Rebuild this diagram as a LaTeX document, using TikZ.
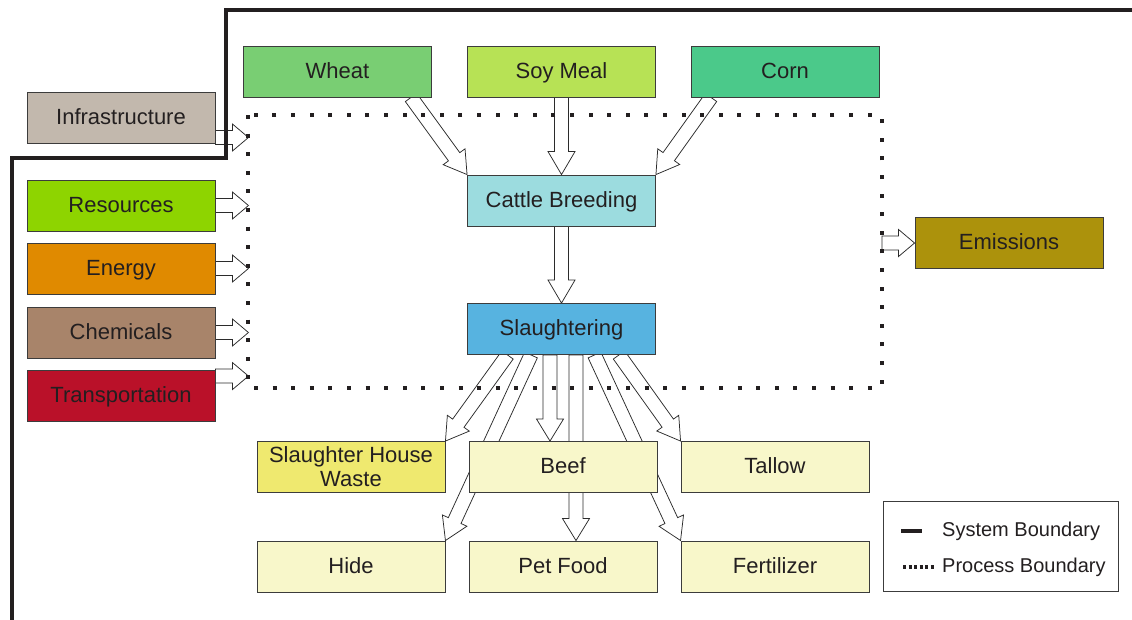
\documentclass[tikz,border=0pt]{standalone}
\usepackage{fontspec}
\setmainfont{Liberation Sans}
\usetikzlibrary{calc,backgrounds}

\definecolor{ink}{HTML}{231F20}
\definecolor{boxline}{HTML}{3C3C3C}
\definecolor{arrowline}{HTML}{2B2B2B}
\definecolor{cwheat}{HTML}{79CE73}
\definecolor{csoy}{HTML}{B7E255}
\definecolor{ccorn}{HTML}{4BC98A}
\definecolor{cinfra}{HTML}{C2B8AD}
\definecolor{ccattle}{HTML}{9CDCDF}
\definecolor{cres}{HTML}{8ED400}
\definecolor{cenergy}{HTML}{E08A00}
\definecolor{cchem}{HTML}{A8846A}
\definecolor{ctrans}{HTML}{BA1129}
\definecolor{cslaughter}{HTML}{57B3E0}
\definecolor{cemis}{HTML}{AC920C}
\definecolor{cwaste}{HTML}{EFE96F}
\definecolor{cproduct}{HTML}{F8F7CA}

\tikzset{
  boxbase/.style={draw=boxline, line width=0.9pt, minimum width=188pt, minimum height=51pt,
    inner sep=0pt, align=center, text=ink, font=\fontsize{22}{24}\selectfont},
  box/.style={boxbase, text height=17pt, text depth=4pt},
  blockarrow/.style={draw=arrowline, fill=white, line width=0.75pt, line join=miter},
  sysbound/.style={draw=ink, line width=4pt},
  procbound/.style={draw=ink, line width=4pt, line cap=butt, dash pattern=on 4pt off 14.6pt},
  legendtext/.style={anchor=west, inner sep=0pt, text=ink, font=\fontsize{20}{22}\selectfont},
}

% hollow block arrow from #2 to #3, head length #1
\newcommand\blockarrow[3][22]{%
  \coordinate (ba-h) at ($(#3)!#1pt!(#2)$);
  \draw[blockarrow] ($(#2)!7pt!90:(#3)$) -- ($(ba-h)!7pt!90:(#3)$)
    -- ($(ba-h)!13.5pt!90:(#3)$) -- (#3) -- ($(ba-h)!13.5pt!-90:(#3)$)
    -- ($(ba-h)!7pt!-90:(#3)$) -- ($(#2)!7pt!-90:(#3)$) -- cycle;}

\begin{document}
\begin{tikzpicture}[x=1pt,y=-1pt]
\useasboundingbox (0,0) rectangle (1132,619);

% feed inputs
\node[box, fill=cwheat] (wheat) at (337.5,71.5) {Wheat};
\node[box, fill=csoy] (soy) at (561.5,71.5) {Soy Meal};
\node[box, fill=ccorn] (corn) at (785,71.5) {Corn};

% external inputs
\node[box, fill=cinfra] (infra) at (121,118) {Infrastructure};
\node[box, fill=cres] (resources) at (121,205.5) {Resources};
\node[box, fill=cenergy] (energy) at (121,268.5) {Energy};
\node[box, fill=cchem] (chemicals) at (121,332.5) {Chemicals};
\node[box, fill=ctrans] (transport) at (121,395.5) {Transportation};

% processes
\node[box, fill=ccattle] (cattle) at (561.5,200.5) {Cattle Breeding};
\node[box, fill=cslaughter] (slaughter) at (561.5,329) {Slaughtering};
\node[box, fill=cemis] (emissions) at (1009,243) {Emissions};

% products
\node[boxbase, fill=cwaste] (waste) at (351,467) {Slaughter House\\Waste};
\node[box, fill=cproduct] (beef) at (563,467) {Beef};
\node[box, fill=cproduct] (tallow) at (775,467) {Tallow};
\node[box, fill=cproduct] (hide) at (351,566.5) {Hide};
\node[box, fill=cproduct] (petfood) at (563,566.5) {Pet Food};
\node[box, fill=cproduct] (fertilizer) at (775,566.5) {Fertilizer};

% process boundary corners
\coordinate (pb-nw) at (248,115);
\coordinate (pb-se) at (882,388);

% arrow end points
\coordinate (wheat-out) at ($(wheat.south)+(73.5,0)$);
\coordinate (corn-out) at ($(corn.south)+(-74,0)$);
\coordinate (infra-out) at ($(infra.east)+(0,19.5)$);
\coordinate (infra-in) at ($(infra-out)+(33,0)$);
\coordinate (res-in) at ($(resources.east)+(33,0)$);
\coordinate (energy-in) at ($(energy.east)+(33,0)$);
\coordinate (chem-in) at ($(chemicals.east)+(33,0)$);
\coordinate (trans-out) at ($(transport.north east)+(0,6.5)$);
\coordinate (trans-in) at ($(trans-out)+(33,0)$);
\coordinate (emis-out) at (pb-se |- emissions.west);
\coordinate (sl-waste) at ($(slaughter.south)+(-54,0)$);
\coordinate (sl-hide) at ($(slaughter.south)+(-30.5,0)$);
\coordinate (sl-beef) at ($(slaughter.south)+(-11.5,0)$);
\coordinate (sl-pet) at ($(slaughter.south)+(14.5,0)$);
\coordinate (sl-fert) at ($(slaughter.south)+(33,0)$);
\coordinate (sl-tallow) at ($(slaughter.south)+(57.5,0)$);
\coordinate (beef-in) at ($(beef.north)+(-13,0)$);
\coordinate (pet-in) at ($(petfood.north)+(13,0)$);

\begin{pgfonlayer}{background}
  \blockarrow{wheat-out}{cattle.north west}
  \blockarrow[23]{soy.south}{cattle.north}
  \blockarrow{corn-out}{cattle.north east}
  \blockarrow[23]{cattle.south}{slaughter.north}
  \blockarrow[16]{infra-out}{infra-in}
  \blockarrow[16]{resources.east}{res-in}
  \blockarrow[16]{energy.east}{energy-in}
  \blockarrow[16]{chemicals.east}{chem-in}
  \blockarrow[16]{trans-out}{trans-in}
  \blockarrow[16]{emis-out}{emissions.west}
  \blockarrow{sl-waste}{waste.north east}
  \blockarrow{sl-hide}{hide.north east}
  \blockarrow{sl-beef}{beef-in}
  \blockarrow{sl-pet}{pet-in}
  \blockarrow{sl-fert}{fertilizer.north west}
  \blockarrow{sl-tallow}{tallow.north west}
\end{pgfonlayer}

% boundaries
\draw[procbound] (pb-nw) rectangle (pb-se);
\draw[sysbound] (12,625) -- (12,158) -- (226,158) -- (226,10) -- (1140,10);

% legend
\node[draw=boxline, line width=0.9pt, fill=white, minimum width=235pt, minimum height=90pt,
  inner sep=0pt] (legend) at (1000.5,546) {};
\coordinate (leg-sys-a) at (901,531);
\coordinate (leg-sys-b) at (922,531);
\coordinate (leg-pro-a) at (903,567);
\coordinate (leg-pro-b) at (934,567);
\draw[draw=ink, line width=4pt] (leg-sys-a) -- (leg-sys-b);
\draw[draw=ink, line width=3.5pt, dash pattern=on 3pt off 2.5pt] (leg-pro-a) -- (leg-pro-b);
\node[legendtext] (leg-sys) at (942,531) {System Boundary};
\node[legendtext] (leg-pro) at (942,567) {Process Boundary};
\end{tikzpicture}
\end{document}
